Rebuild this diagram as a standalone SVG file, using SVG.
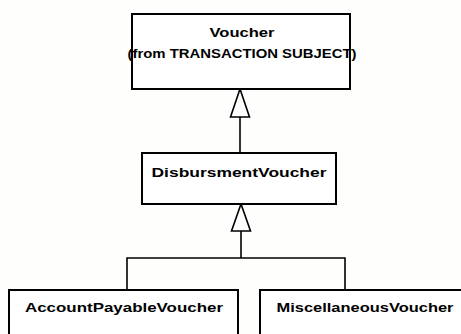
<svg xmlns="http://www.w3.org/2000/svg" width="461" height="334" viewBox="0 0 461 334">
<style>
.box{fill:#fff;stroke:#000;stroke-width:2}
.t{font-family:"Liberation Sans",Arial,sans-serif;font-weight:bold;font-size:13.5px;fill:#000;text-anchor:middle}
.c{fill:none;stroke:#000;stroke-width:1.6}
.tri{fill:#fff;stroke:#000;stroke-width:1.6;stroke-linejoin:miter}
</style>
<rect x="0" y="0" width="461" height="334" fill="#fefefc"/>
<g id="connectors">
<polyline class="c" points="240,117 240,153"/>
<polygon class="tri" points="240,89 230.5,117 249.5,117"/>
<polyline class="c" points="241,231 241,258"/>
<polygon class="tri" points="241,204 231.5,231 250.5,231"/>
<polyline class="c" points="127,290 127,258 345,258 345,290"/>
</g>
<g id="voucher">
<rect class="box" x="132" y="14" width="218" height="75"/>
<text class="t" x="242" y="37" textLength="65" lengthAdjust="spacingAndGlyphs">Voucher</text>
<text class="t" x="242" y="58" textLength="229" lengthAdjust="spacingAndGlyphs">(from TRANSACTION SUBJECT)</text>
</g>
<g id="disbursmentVoucher">
<rect class="box" x="142" y="153" width="194" height="51"/>
<text class="t" x="239" y="177" textLength="175" lengthAdjust="spacingAndGlyphs">DisbursmentVoucher</text>
</g>
<g id="accountPayableVoucher">
<rect class="box" x="9" y="290" width="229" height="50"/>
<text class="t" x="124" y="312" textLength="198" lengthAdjust="spacingAndGlyphs">AccountPayableVoucher</text>
</g>
<g id="miscellaneousVoucher">
<rect class="box" x="260" y="290" width="210" height="50"/>
<text class="t" x="365" y="312" textLength="177" lengthAdjust="spacingAndGlyphs">MiscellaneousVoucher</text>
</g>
</svg>
